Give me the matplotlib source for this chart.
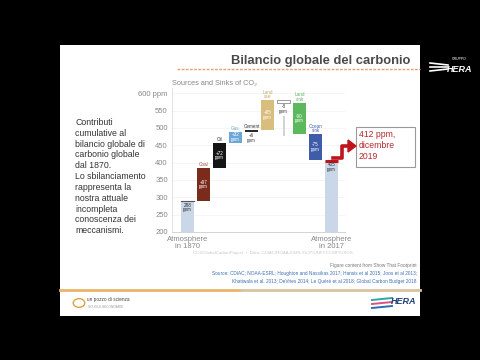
import matplotlib
matplotlib.use("Agg")
import matplotlib.pyplot as plt
from matplotlib.patches import Rectangle, Polygon
from matplotlib.lines import Line2D

plt.rcParams['font.family'] = ['Liberation Sans', 'DejaVu Sans']

# ---------------- data ----------------
categories = ["Atmosphere\nin 1870", "Coal", "Oil", "Gas", "Cement", "Land use",
              "Imbalance", "Land sink", "Ocean sink", "Atmosphere\nin 2017"]
atm_1870 = 288
fluxes = [97, 72, 32, 6, 85, -8, -90, -75]       # ppm contributions, in order
atm_2017 = 405
value_labels = ["288\nppm", "+97\nppm", "+72\nppm", "+32\nppm", "+6\nppm", "+85\nppm",
                "-8\nppm", "-90\nppm", "-75\nppm", "405\nppm"]
top_labels = ["", "Coal", "Oil", "Gas", "Cement", "Land\nuse", "", "Land\nsink", "Ocean\nsink", ""]
imbalance_range = [476, 534]
y_ticks = [200, 250, 300, 350, 400, 450, 500, 550, 600]
y_tick_labels = ["200", "250", "300", "350", "400", "450", "500", "550", "600 ppm"]
callout_text = "412 ppm,\ndicembre\n2019"
side_text = ("Contributi\ncumulative al\nbilancio globale di\ncarbonio globale\ndal 1870.\n"
             "Lo sbilanciamento\nrappresenta la\nnostra attuale\nincompleta\nconoscenza dei\nmeccanismi.")

bar_colors = ["#c9d7e8", "#7a2b1c", "#151515", "#6aa6d8", "#2b2b2b", "#d8bd7c",
              "#ffffff", "#5cb85c", "#3f5ca8", "#c9d7e8"]
label_colors = ["#444", "#9a4a35", "#222", "#6aa6d8", "#333", "#c8a860",
                "#444", "#5cb85c", "#3f5ca8", "#444"]

W, H = 480, 360
def fx(x): return x / W
def fy(y): return 1 - y / H

fig = plt.figure(figsize=(4.8, 3.6), dpi=100, facecolor="black")

# slide background
fig.patches.append(Rectangle((fx(60), fy(316)), (420 - 60) / W, (316 - 45) / H,
                             transform=fig.transFigure, facecolor="white", edgecolor="none", zorder=-5))

# title and dashed underline
fig.text(fx(410), fy(61), "Bilancio globale del carbonio", ha="right", va="center",
         fontsize=9.4, fontweight="bold", color="#4a4a4a")
fig.lines.append(Line2D([fx(177), fx(420)], [fy(69), fy(69)], transform=fig.transFigure,
                        color="#e8a070", lw=1.0, ls=(0, (2, 1))))

# ---------------- chart ----------------
ax = fig.add_axes([fx(172), fy(232), (345 - 172) / W, (232 - 88) / H])
ax.set_zorder(2)
ax.set_facecolor("white")
ax.set_xlim(-0.97, 9.84)
ax.set_ylim(200, 615)

# compute waterfall levels
bottoms, tops = [], []
level = atm_1870
bottoms.append(200); tops.append(atm_1870)
for f in fluxes:
    new = level + f
    bottoms.append(min(level, new)); tops.append(max(level, new))
    level = new
bottoms.append(200); tops.append(atm_2017)

xs = list(range(len(categories)))
for i in xs:
    b, t = bottoms[i], tops[i]
    if categories[i] == "Imbalance":
        ax.bar(i, t - b, bottom=b, width=0.78, color="white", edgecolor="#8a8a8a", lw=0.6, zorder=3)
        ax.bar(i, imbalance_range[1] - imbalance_range[0], bottom=imbalance_range[0],
               width=0.13, color="#d3d3d3", zorder=3)
    else:
        ax.bar(i, t - b, bottom=b, width=0.78, color=bar_colors[i], edgecolor="none", zorder=3)

# top edges of atmosphere bars
ax.plot([-0.39, 0.39], [tops[0], tops[0]], color="#555", lw=0.8, zorder=4)
ax.plot([8.61, 9.39], [tops[9], tops[9]], color="#c0141c", lw=2.2, zorder=4, solid_capstyle="butt")

# labels
for i in xs:
    b, t = bottoms[i], tops[i]
    if categories[i] in ("Cement", "Imbalance"):
        ax.text(i, b - 4, value_labels[i], ha="center", va="top", fontsize=3.3,
                color="#444", linespacing=0.9, zorder=5)
    elif categories[i].startswith("Atmosphere"):
        ax.text(i, t - 4, value_labels[i], ha="center", va="top", fontsize=3.3,
                color="#333", linespacing=0.9, zorder=5)
    else:
        ax.text(i, (b + t) / 2, value_labels[i], ha="center", va="center", fontsize=3.3,
                color="white", linespacing=0.9, zorder=5)
    if top_labels[i]:
        ax.text(i, t + 3, top_labels[i], ha="center", va="bottom", fontsize=3.3,
                color=label_colors[i], linespacing=0.85, zorder=5)

ax.set_yticks(y_ticks)
ax.set_yticklabels(y_tick_labels, fontsize=5.5, color="#888")
ax.set_xticks([0, 9])
ax.set_xticklabels([categories[0], categories[9]], fontsize=5.5, color="#888", linespacing=0.95)
ax.tick_params(axis="both", length=0, pad=3)
ax.grid(axis="y", color="#f1f1f1", lw=0.5, zorder=0)
for s in ["top", "right"]:
    ax.spines[s].set_visible(False)
ax.spines["left"].set_color("#dddddd")
ax.spines["bottom"].set_color("#cccccc")
ax.spines["left"].set_linewidth(0.6)
ax.spines["bottom"].set_linewidth(0.6)

fig.text(fx(172), fy(84), "Sources and Sinks of CO\u2082", ha="left", va="center",
         fontsize=5.3, color="#888")

# red arrow to callout
arrow_x = [333, 342, 342, 349]
arrow_y = [158, 158, 146, 146]
fig.lines.append(Line2D([fx(v) for v in arrow_x], [fy(v) for v in arrow_y],
                        transform=fig.transFigure, color="#c0141c", lw=2.6,
                        solid_joinstyle="round", zorder=6))
fig.patches.append(Polygon([(fx(348), fy(140)), (fx(356), fy(146)), (fx(348), fy(152))],
                           closed=True, transform=fig.transFigure, color="#c0141c", zorder=6))

fig.patches.append(Rectangle((fx(356), fy(167)), (415 - 356) / W, (167 - 127) / H,
                             transform=fig.transFigure, facecolor="white", edgecolor="#9a9a9a",
                             lw=0.8, zorder=5))
fig.text(fx(359), fy(130), callout_text, ha="left", va="top", fontsize=6.2,
         color="#b5262d", linespacing=1.25, zorder=7)

# left description
fig.text(fx(75), fy(118), side_text, ha="left", va="top", fontsize=6.3,
         color="#333", linespacing=1.26)

# source captions
fig.text(fx(273), fy(253), "CO2/GlobalCarbonProject  \u2022  Data: CDIAC/NOAA-ESRL/GCP/UNFCCC/BP/USGS",
         ha="center", va="center", fontsize=3.2, color="#c8c8c8")
fig.text(fx(417), fy(265), "Figure content from Show That Footprint", ha="right", va="center",
         fontsize=3.4, color="#777")
fig.text(fx(417), fy(273), "Source: CDIAC; NOAA-ESRL; Houghton and Nassikas 2017; Hansis et al 2015; Joos et al 2013;",
         ha="right", va="center", fontsize=3.4, color="#3a6fb5")
fig.text(fx(417), fy(281), "Khatiwala et al. 2013; DeVries 2014; Le Qu\u00e9r\u00e9 et al 2018; Global Carbon Budget 2018",
         ha="right", va="center", fontsize=3.4, color="#3a6fb5")

# separator line
fig.lines.append(Line2D([fx(60), fx(240)], [fy(290), fy(290)], transform=fig.transFigure,
                        color="#e9b46a", lw=2.0))
fig.lines.append(Line2D([fx(240), fx(420)], [fy(290), fy(290)], transform=fig.transFigure,
                        color="#d9c2a0", lw=2.0))

# bottom-left logo
fig.patches.append(plt.Circle((fx(79), fy(303)), 0.012, transform=fig.transFigure,
                              facecolor="none", edgecolor="#e0a040", lw=1.0))
fig.text(fx(87), fy(300), "un pozzo di scienza", ha="left", va="center", fontsize=3.4, color="#444")
fig.text(fx(88), fy(307), "SCUOLE SECONDARIE", ha="left", va="center", fontsize=2.3, color="#999")

# bottom-right logo
for k, c in enumerate(["#2aa7a8", "#e05080", "#2a6fb0"]):
    fig.lines.append(Line2D([fx(372), fx(392)], [fy(300 + 4 * k), fy(298 + 4 * k)],
                            transform=fig.transFigure, color=c, lw=1.4))
fig.text(fx(391), fy(302), "HERA", ha="left", va="center", fontsize=6.5,
         fontweight="bold", style="italic", color="#1d3f7a")

# top-right logo on black
for k in range(3):
    fig.lines.append(Line2D([fx(430), fx(448)], [fy(63 + 4 * k), fy(65 + 2 * k)],
                            transform=fig.transFigure, color="white", lw=1.2))
fig.text(fx(447), fy(69), "HERA", ha="left", va="center", fontsize=6.5,
         fontweight="bold", style="italic", color="white")
fig.text(fx(452), fy(59), "GRUPPO", ha="left", va="center", fontsize=2.5, color="white")

fig.savefig("out.png", dpi=100, facecolor="black")
